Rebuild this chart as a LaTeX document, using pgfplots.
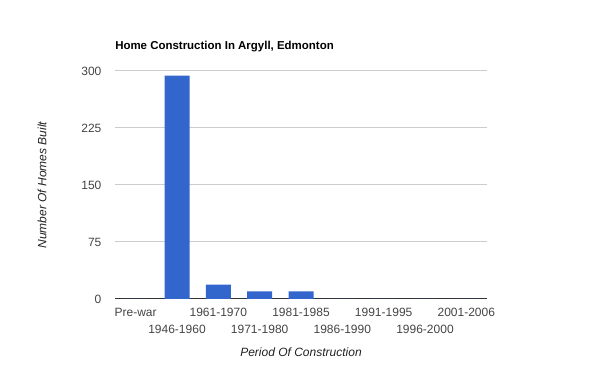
\documentclass[border=0pt]{standalone}
\usepackage{fontspec}
\setmainfont{Liberation Sans}
\usepackage{pgfplots}
\pgfplotsset{compat=1.18}
\definecolor{barblue}{HTML}{3366CC}
\definecolor{gridgray}{HTML}{CCCCCC}
\definecolor{ticktext}{HTML}{444444}
\definecolor{labeltext}{HTML}{222222}
\definecolor{baseline}{HTML}{333333}
\begin{document}
\begin{tikzpicture}
\useasboundingbox (0,0) rectangle (450pt,278.25pt);
\begin{axis}[
  at={(86.25pt,54pt)}, anchor=south west,
  scale only axis, width=279pt, height=171pt,
  ybar, bar width=18.75pt,
  xmin=-0.5, xmax=8.5, ymin=0, ymax=300,
  xtick={0,...,8},
  xticklabels={Pre-war,\raisebox{-12.75pt}{1946-1960},1961-1970,\raisebox{-12.75pt}{1971-1980},1981-1985,\raisebox{-12.75pt}{1986-1990},1991-1995,\raisebox{-12.75pt}{1996-2000},2001-2006},
  ytick={0,75,150,225,300},
  ymajorgrids, grid style={gridgray, line width=0.75pt},
  axis x line*=bottom, axis y line*=left,
  x axis line style={-, draw=baseline, line width=0.75pt},
  y axis line style={draw=none},
  tick style={draw=none}, major tick length=0pt,
  /pgf/number format/assume math mode=true,
  ticklabel style={font=\fontsize{9}{10.8}\selectfont, text=ticktext},
  xticklabel style={text height=6.5pt, text depth=0pt, yshift=-3.4pt},
  yticklabel style={xshift=-6.7pt},
  xlabel={Period Of Construction},
  ylabel={Number Of Homes Built},
  label style={font=\fontsize{9}{10.8}\selectfont\itshape, text=labeltext},
  xlabel style={at={(axis description cs:0.5,-0.232)}, anchor=center},
  ylabel style={at={(axis description cs:-0.196,0.5)}, anchor=center},
  title={Home Construction In Argyll, Edmonton},
  title style={at={(axis description cs:0,1.07)}, anchor=west, inner xsep=0pt, font=\fontsize{8.6}{10}\selectfont\bfseries, text=black},
]
\addplot[fill=barblue, draw=none] coordinates {(0,0) (1,294) (2,19) (3,10) (4,10) (5,0) (6,0) (7,0) (8,0)};
\end{axis}
\end{tikzpicture}
\end{document}
